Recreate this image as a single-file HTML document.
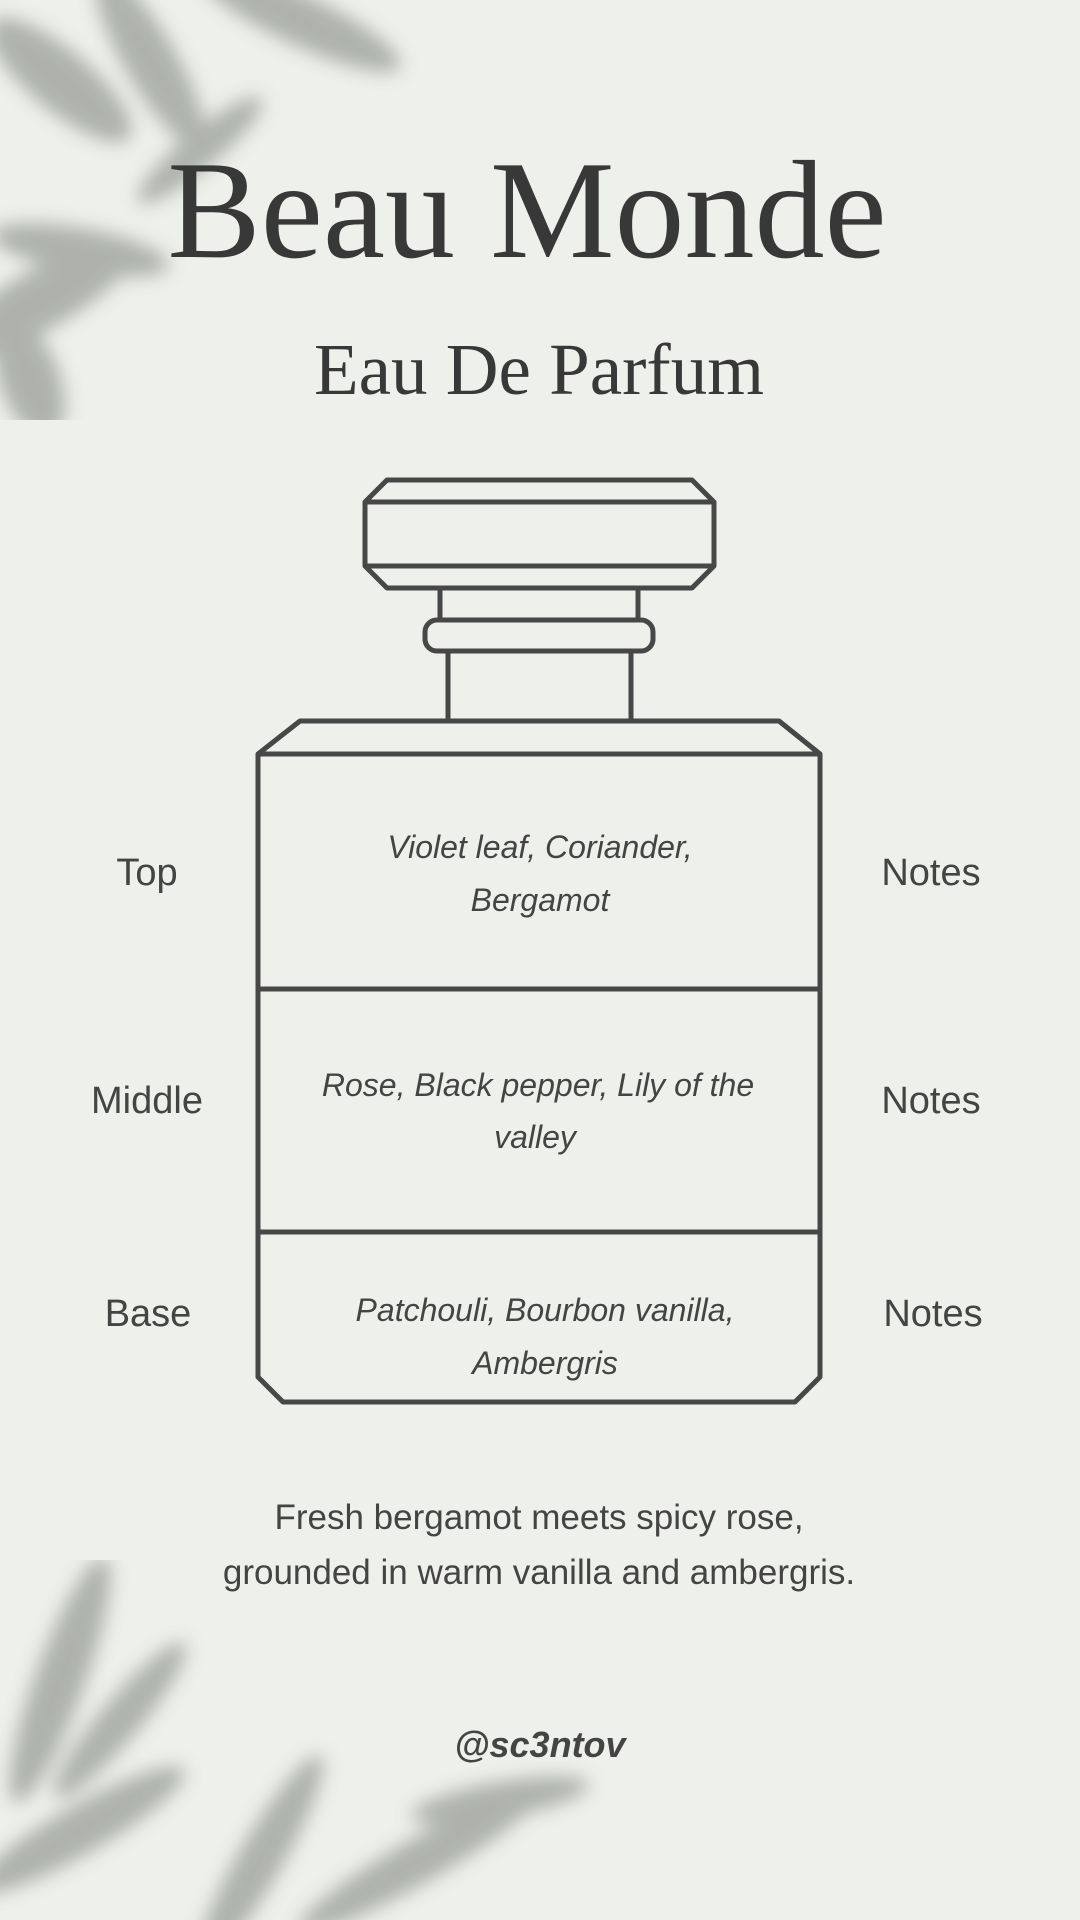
<!DOCTYPE html>
<html><head><meta charset="utf-8"><style>
html,body{margin:0;padding:0}
body{width:1080px;height:1920px;background:#eef0eb;position:relative;overflow:hidden;font-family:"Liberation Sans",sans-serif;color:#444}
svg{position:absolute;left:0;top:0}
</style></head><body>
<svg width="1080" height="1920" viewBox="0 0 1080 1920">
<defs><filter id="b" x="-50%" y="-50%" width="200%" height="200%"><feGaussianBlur stdDeviation="9"/></filter></defs>
<g fill="#9fa39d" opacity="0.8" filter="url(#b)">
<ellipse cx="60" cy="80" rx="90" ry="30" transform="rotate(40 60 80)"/>
<ellipse cx="150" cy="60" rx="100" ry="26" transform="rotate(60 150 60)"/>
<ellipse cx="300" cy="20" rx="110" ry="25" transform="rotate(25 300 20)"/>
<ellipse cx="40" cy="300" rx="110" ry="30" transform="rotate(-30 40 300)"/>
<ellipse cx="80" cy="250" rx="90" ry="22" transform="rotate(10 80 250)"/>
<ellipse cx="30" cy="380" rx="60" ry="30" transform="rotate(70 30 380)"/>
<ellipse cx="200" cy="150" rx="80" ry="18" transform="rotate(-40 200 150)"/>
<ellipse cx="60" cy="1680" rx="130" ry="25" transform="rotate(-70 60 1680)"/>
<ellipse cx="120" cy="1720" rx="100" ry="20" transform="rotate(-50 120 1720)"/>
<ellipse cx="80" cy="1830" rx="120" ry="24" transform="rotate(-30 80 1830)"/>
<ellipse cx="260" cy="1860" rx="120" ry="22" transform="rotate(-60 260 1860)"/>
<ellipse cx="420" cy="1860" rx="140" ry="22" transform="rotate(-30 420 1860)"/>
<ellipse cx="500" cy="1800" rx="90" ry="18" transform="rotate(-10 500 1800)"/>
</g>
<rect x="0" y="420" width="1080" height="1140" fill="#eef0eb"/>
<g fill="none" stroke="#474747" stroke-width="5" stroke-linejoin="round">
<path d="M387 480 L692 480 L714 502 L714 566 L692 588 L387 588 L365 566 L365 502 Z"/>
<line x1="365" y1="502" x2="714" y2="502"/><line x1="365" y1="566" x2="714" y2="566"/>
<path d="M440 588 V621 M638 588 V621"/>
<rect x="425" y="620" width="228" height="31" rx="12"/>
<path d="M448 651 V721 M631 651 V721"/>
<path d="M300 721 L779 721 L820 754 L258 754 Z"/>
<path d="M258 754 L258 1377 L283 1402 L795 1402 L820 1377 L820 754"/>
<line x1="258" y1="989" x2="820" y2="989"/><line x1="258" y1="1232" x2="820" y2="1232"/>
</g>
<g font-family="Liberation Serif,serif" fill="#383838" text-anchor="middle">
<text x="527" y="257" font-size="140">Beau Monde</text>
<text x="539" y="394" font-size="73">Eau De Parfum</text>
</g>
<g font-size="38" fill="#444" text-anchor="middle">
<text x="147" y="885">Top</text><text x="147" y="1113">Middle</text><text x="148" y="1326">Base</text>
<text x="931" y="885">Notes</text><text x="931" y="1113">Notes</text><text x="933" y="1326">Notes</text>
</g>
<g font-size="32" font-style="italic" fill="#444" text-anchor="middle">
<text x="540" y="858">Violet leaf, Coriander,</text><text x="540" y="911">Bergamot</text>
<text x="538" y="1096">Rose, Black pepper, Lily of the</text><text x="535" y="1148">valley</text>
<text x="545" y="1321">Patchouli, Bourbon vanilla,</text><text x="545" y="1374">Ambergris</text>
</g>
<g font-size="35" fill="#444" text-anchor="middle">
<text x="539" y="1529">Fresh bergamot meets spicy rose,</text>
<text x="539" y="1584">grounded in warm vanilla and ambergris.</text>
</g>
<text x="540" y="1757" font-size="36" font-weight="bold" font-style="italic" fill="#444" text-anchor="middle">@sc3ntov</text>
</svg>
</body></html>
